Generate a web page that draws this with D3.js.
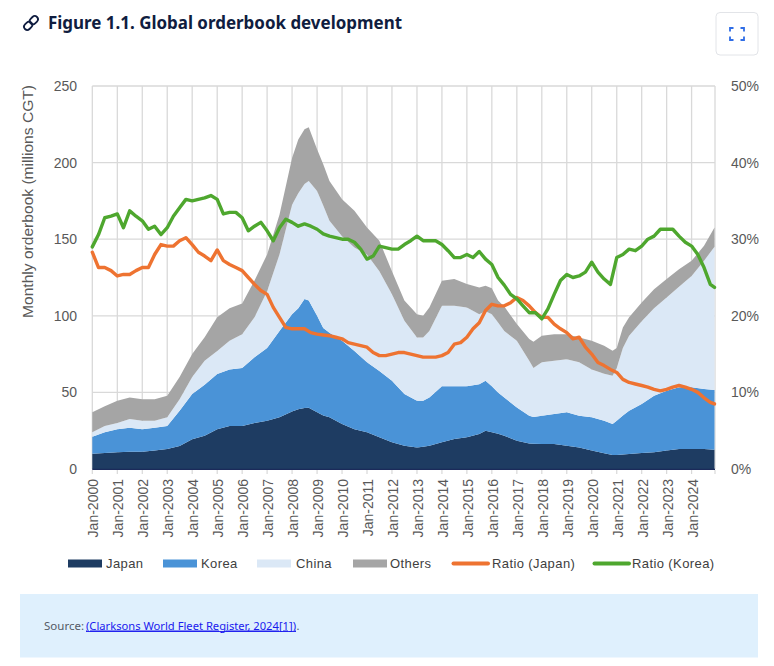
<!DOCTYPE html>
<html>
<head>
<meta charset="utf-8">
<script src="https://cdn.jsdelivr.net/npm/d3@7"></script>
<style>
  html, body { margin: 0; padding: 0; background: #ffffff; }
  svg { display: block; }
</style>
</head>
<body>
<svg id="chart" width="774" height="666"></svg>
<script>
// ---------------- DATA ----------------
const seriesKeys = ["Japan", "Korea", "China", "Others"];
const lineKeys = ["Ratio (Japan)", "Ratio (Korea)"];

// Orderbook area readings (millions CGT), per series
const areaDates = ["2000-01","2000-07","2001-01","2001-07","2002-01","2002-07","2003-01","2003-07",
  "2004-01","2004-07","2005-01","2005-07","2006-01","2006-07","2007-01","2007-07",
  "2008-01","2008-04","2008-07","2008-09","2009-01","2009-04","2009-07","2010-01","2010-07",
  "2011-01","2011-07","2012-01","2012-07","2013-01","2013-04","2013-07","2014-01","2014-07",
  "2015-01","2015-07","2015-10","2016-01","2016-04","2016-07","2017-01","2017-07","2017-09",
  "2018-01","2018-07","2019-01","2019-07","2020-01","2020-07","2020-11","2021-01","2021-04",
  "2021-07","2022-01","2022-07","2023-01","2023-07","2024-01","2024-07","2024-12"];
const japan = [10,10.4,11,11.3,11.3,12,13,15,19.5,21.7,26,28,28,30,31.5,33.7,
  37.5,39,39.8,40,37,35,33.7,29.3,26,24,20.7,17.4,15.2,14.1,14.5,15.2,17.4,19.6,
  20.7,22.8,25,24,23,21.7,18.5,16.7,16.5,16.3,16.3,15.2,14.1,12,10.2,9.1,9.1,9.5,
  9.8,10.4,10.9,12,13,13,13,12.6];
const korea = [11,13.6,15,15.7,14.7,15,15,23,29.5,33.3,36,37,38,43,47.5,56.3,
  63.5,66,71.2,70,63,57,55.3,54.4,51,45.6,43.3,40.2,33.8,30.5,30.1,31.5,36.6,34.4,
  33.3,32.6,32.6,30,27,25,21.7,18.1,17.5,18.5,19.6,21.8,20.7,21.7,21.3,20.2,22.4,25.5,
  28.2,32,36.9,39,40.3,40.3,39.2,38.9];
const china = [3,4,4,5.6,5.5,4.5,5.7,7.6,11,15.6,15,18.7,22,26,37,50,
  71.5,75,75,78,81.5,80,73,68.3,67.6,70.4,65,56.4,47.7,41.3,41.3,43.3,52.5,52.5,
  51.4,45.6,45.4,47,45.6,43.3,43.5,35.8,32,34.8,34.7,34.7,34.8,31.3,30.7,31.6,34.5,44,
  49,54.1,57.2,61,65.7,72.7,83.8,93.5];
const others = [13,13,14.6,14.1,14.1,14.1,14.1,14.4,15,15.4,22,21.3,20,24,24,26,
  30.5,35,35.7,35,27.2,27,26,24,23.9,17.6,20,15,13.3,15.1,14.1,15.4,16.3,17.5,
  15.3,17.5,16.6,17,14.4,16,10.9,14.2,17,17.4,17.4,16.3,16.3,18.7,18.2,16.3,13,13.4,
  12,12.2,12.4,12,11.4,9.9,9.7,12.6];

// Ratio lines (%), quarterly Jan-2000 .. Oct-2024 plus Dec-2024
const ratioJapan = [
  28.3,26.3,26.3,25.9, 25.2,25.4,25.4,25.9, 26.3,26.3,28.0,29.3, 29.1,29.1,29.8,30.2,
  29.3,28.3,27.8,27.2, 28.6,27.2,26.7,26.3, 25.9,25.0,24.1,23.3, 22.8,21.1,19.8,18.5,
  18.3,18.3,18.3,17.8, 17.6,17.5,17.4,17.2, 17.0,16.5,16.3,16.1, 15.9,15.2,14.8,14.8,
  15.0,15.2,15.2,15.0, 14.8,14.6,14.6,14.6, 14.8,15.2,16.3,16.5, 17.2,18.3,19.1,20.7,
  21.5,21.3,21.3,21.7, 22.4,22.0,21.3,20.4, 19.8,19.8,18.9,18.3, 17.8,17.0,17.2,15.9,
  15.0,13.9,13.5,13.0, 12.6,11.7,11.3,11.1, 10.9,10.7,10.4,10.2, 10.4,10.7,10.9,10.7,
  10.4,10.0,9.3,8.7, 8.5];
const ratioKorea = [
  29.0,30.6,32.8,33.0, 33.3,31.5,33.7,33.0, 32.4,31.3,31.7,30.6, 31.5,33.0,34.1,35.2,
  35.0,35.2,35.4,35.7, 35.2,33.3,33.5,33.5, 32.8,31.1,31.7,32.2, 31.1,29.8,31.5,32.6,
  32.2,31.7,32.0,31.7, 31.3,30.7,30.4,30.2, 30.0,30.0,29.6,28.7, 27.4,27.8,29.1,28.9,
  28.7,28.7,29.3,29.8, 30.4,29.8,29.8,29.8, 29.3,28.5,27.6,27.6, 28.0,27.6,28.4,27.4,
  26.7,25.0,24.0,22.8, 22.2,21.3,20.4,20.4, 19.6,20.9,22.8,24.6, 25.4,25.0,25.2,25.7,
  27.0,25.7,24.8,24.1, 27.6,28.0,28.7,28.5, 29.1,30.0,30.4,31.3, 31.3,31.3,30.4,29.6,
  29.1,28.0,26.3,24.1, 23.7];

const leftTicks = [0, 50, 100, 150, 200, 250];
const rightTicks = [0, 10, 20, 30, 40, 50];

const colors = { "Japan": "#1e3c62", "Korea": "#4a93d7", "China": "#dbe8f6", "Others": "#a5a5a5",
                 "Ratio (Japan)": "#ee7331", "Ratio (Korea)": "#4ea72e" };

// ---------------- LAYOUT ----------------
const parse = d3.timeParse("%Y-%m");
const svg = d3.select("#chart");
const plot = { left: 92.3, right: 714.5, top: 86, bottom: 469 };

const x = d3.scaleTime().domain([parse("2000-01"), parse("2024-12")]).range([plot.left, plot.right]);
const y = d3.scaleLinear().domain([0, 250]).range([plot.bottom, plot.top]);
const yR = d3.scaleLinear().domain([0, 50]).range([plot.bottom, plot.top]);

const areaTable = areaDates.map((d, i) => ({ date: parse(d), Japan: japan[i], Korea: korea[i], China: china[i], Others: others[i] }));
const lineDates = d3.timeMonth.every(3).range(parse("2000-01"), parse("2024-11")).concat([parse("2024-12")]);

// Title
const title = svg.append("g");
title.append("text").attr("x", 48).attr("y", 29)
  .attr("font-family", "'Noto Sans', sans-serif").attr("font-weight", 700).attr("font-size", 18)
  .attr("fill", "#101d40").attr("textLength", 354).attr("lengthAdjust", "spacingAndGlyphs")
  .text("Figure 1.1. Global orderbook development");
// link icon
const icon = title.append("g").attr("transform", "translate(31,23) rotate(-45)")
  .attr("fill", "none").attr("stroke", "#101d40").attr("stroke-width", 1.8);
icon.append("rect").attr("x", -8.5).attr("y", -3.2).attr("width", 9).attr("height", 6.4).attr("rx", 3.2);
icon.append("rect").attr("x", -0.5).attr("y", -3.2).attr("width", 9).attr("height", 6.4).attr("rx", 3.2);

// Expand button
const btn = svg.append("g");
btn.append("rect").attr("x", 716).attr("y", 12.5).attr("width", 42).attr("height", 42.5).attr("rx", 4)
  .attr("fill", "#fff").attr("stroke", "#e2e4e8").attr("stroke-width", 1);
const bi = btn.append("g").attr("fill", "none").attr("stroke", "#2f6de6").attr("stroke-width", 1.8);
[[730, 28, 1, 1], [744, 28, -1, 1], [730, 40, 1, -1], [744, 40, -1, -1]].forEach(([cx, cy, sx, sy]) => {
  bi.append("path").attr("d", `M${cx},${cy + sy * 3.5} L${cx},${cy} L${cx + sx * 3.5},${cy}`);
});

// Gridlines
const grid = svg.append("g").attr("stroke", "#d9d9d9").attr("stroke-width", 1.3);
leftTicks.forEach(t => {
  grid.append("line").attr("x1", plot.left).attr("x2", plot.right + 0.5).attr("y1", y(t)).attr("y2", y(t));
});
const yearTicks = d3.timeYear.range(parse("2000-01"), parse("2025-01"));
yearTicks.forEach(d => {
  grid.append("line").attr("x1", x(d)).attr("x2", x(d)).attr("y1", plot.top).attr("y2", plot.bottom);
});
grid.append("line").attr("x1", plot.right + 0.5).attr("x2", plot.right + 0.5).attr("y1", plot.top).attr("y2", plot.bottom);

// Stacked areas
const stack = d3.stack().keys(seriesKeys);
const stacked = stack(areaTable);
const area = d3.area().x(d => x(d.data.date)).y0(d => y(d[0])).y1(d => y(d[1])).curve(d3.curveLinear);
svg.append("g").selectAll("path").data(stacked).join("path")
  .attr("d", area).attr("fill", d => colors[d.key]);

// Bottom axis line and ticks
svg.append("line").attr("x1", plot.left).attr("x2", plot.right + 0.5).attr("y1", plot.bottom + 0.3).attr("y2", plot.bottom + 0.3)
  .attr("stroke", "#1b2a5a").attr("stroke-width", 1.2);
const xt = svg.append("g").attr("stroke", "#d9d9d9").attr("stroke-width", 1.2);
yearTicks.forEach(d => xt.append("line").attr("x1", x(d)).attr("x2", x(d)).attr("y1", plot.bottom + 1).attr("y2", plot.bottom + 5));
xt.append("line").attr("x1", plot.right + 0.5).attr("x2", plot.right + 0.5).attr("y1", plot.bottom + 1).attr("y2", plot.bottom + 5);

// Ratio lines
const line = d3.line().x((d, i) => x(lineDates[i])).y(d => yR(d)).curve(d3.curveLinear);
[[ratioJapan, "Ratio (Japan)"], [ratioKorea, "Ratio (Korea)"]].forEach(([vals, key]) => {
  svg.append("path").datum(vals).attr("d", line).attr("fill", "none")
    .attr("stroke", colors[key]).attr("stroke-width", 3.4).attr("stroke-linejoin", "round").attr("stroke-linecap", "round");
});

// Axis labels
const axisFont = "'Liberation Sans', Arial, sans-serif";
const tl = svg.append("g").attr("font-family", axisFont).attr("font-size", 14).attr("fill", "#595959");
leftTicks.forEach(t => tl.append("text").attr("x", 77).attr("y", y(t)).attr("dy", "0.36em").attr("text-anchor", "end").text(t));
rightTicks.forEach(t => tl.append("text").attr("x", 731).attr("y", yR(t)).attr("dy", "0.36em").text(t + "%"));
const fmt = d3.timeFormat("%b-%Y");
yearTicks.forEach(d => {
  tl.append("text").attr("transform", `translate(${x(d) + 1},${plot.bottom + 10}) rotate(-90)`)
    .attr("dy", "0.36em").attr("text-anchor", "end").text(fmt(d));
});
tl.append("text").attr("transform", `translate(28,201.5) rotate(-90)`).attr("dy", "0.36em")
  .attr("text-anchor", "middle").attr("font-size", 15).attr("textLength", 233).attr("lengthAdjust", "spacingAndGlyphs")
  .text("Monthly orderbook (millions CGT)");

// Legend
const legend = svg.append("g").attr("font-family", axisFont).attr("font-size", 13).attr("fill", "#404040");
const legItems = [
  { key: "Japan", type: "rect", x: 68, tx: 106 },
  { key: "Korea", type: "rect", x: 163, tx: 201 },
  { key: "China", type: "rect", x: 257, tx: 296 },
  { key: "Others", type: "rect", x: 353, tx: 390 },
  { key: "Ratio (Japan)", type: "line", x: 452, tx: 492 },
  { key: "Ratio (Korea)", type: "line", x: 593, tx: 632 }
];
legItems.forEach(it => {
  if (it.type === "rect") {
    legend.append("rect").attr("x", it.x).attr("y", 559.5).attr("width", 34).attr("height", 8).attr("fill", colors[it.key]);
  } else {
    legend.append("line").attr("x1", it.x + 1.5).attr("x2", it.x + 36).attr("y1", 563.5).attr("y2", 563.5)
      .attr("stroke", colors[it.key]).attr("stroke-width", 4).attr("stroke-linecap", "round");
  }
  legend.append("text").attr("x", it.tx).attr("y", 563.5).attr("dy", "0.36em").attr("letter-spacing", 0.4).text(it.key);
});

// Source box
svg.append("rect").attr("x", 20).attr("y", 594).attr("width", 738).attr("height", 63.5).attr("fill", "#dff0fd");
const src = svg.append("g").attr("font-family", "'Noto Sans', sans-serif").attr("font-size", 11);
src.append("text").attr("x", 44).attr("y", 629.5).attr("fill", "#555a66").attr("textLength", 40).attr("lengthAdjust", "spacingAndGlyphs").text("Source:");
src.append("text").attr("x", 86).attr("y", 629.5).attr("fill", "#1a1aee").attr("text-decoration", "underline")
  .attr("textLength", 210).attr("lengthAdjust", "spacingAndGlyphs").text("(Clarksons World Fleet Register, 2024[1])");
src.append("line").attr("x1", 86).attr("x2", 296).attr("y1", 631.5).attr("y2", 631.5).attr("stroke", "#1a1aee").attr("stroke-width", 0.9);
src.append("text").attr("x", 296.5).attr("y", 629.5).attr("fill", "#555a66").text(".");
</script>
</body>
</html>
